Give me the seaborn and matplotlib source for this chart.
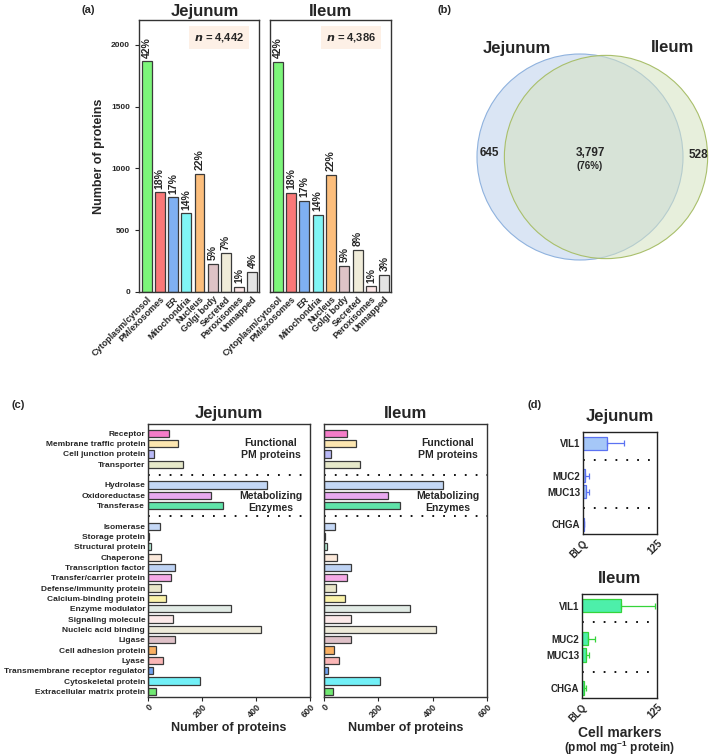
import matplotlib
matplotlib.use("Agg")
import matplotlib.pyplot as plt
import seaborn as sns
import numpy as np
from matplotlib.patches import Circle

# ---------------- data ----------------
# (a) subcellular localisation
loc_names = ['Cytoplasm/cytosol', 'PM/exosomes', 'ER', 'Mitochondria', 'Nucleus',
             'Golgi body', 'Secreted', 'Peroxisomes', 'Unmapped']
loc_jej = [1866, 805, 765, 635, 955, 228, 312, 40, 165]
loc_ile = [1862, 800, 737, 623, 947, 212, 340, 45, 138]
pct_jej = [42, 18, 17, 14, 22, 5, 7, 1, 4]
pct_ile = [42, 18, 17, 14, 22, 5, 8, 1, 3]
n_jej = '4,442'
n_ile = '4,386'
loc_colors = ['#7CF57A', '#FA7878', '#7FB0F2', '#80F5F5', '#FCBE7C',
              '#DEC3C6', '#F0ECD9', '#FBE4E4', '#E4E4E4']

# (b) venn
venn_only_jej = 645
venn_shared = 3797
venn_only_ile = 528
venn_shared_pct = 76

# (c) protein classes (groups separated by dotted lines)
grp_pm = ['Receptor', 'Membrane traffic protein', 'Cell junction protein', 'Transporter']
grp_enz = ['Hydrolase', 'Oxidoreductase', 'Transferase']
grp_other = ['Isomerase', 'Storage protein', 'Structural protein', 'Chaperone',
             'Transcription factor', 'Transfer/carrier protein', 'Defense/immunity protein',
             'Calcium-binding protein', 'Enzyme modulator', 'Signaling molecule',
             'Nucleic acid binding', 'Ligase', 'Cell adhesion protein', 'Lyase',
             'Transmembrane receptor regulator', 'Cytoskeletal protein',
             'Extracellular matrix protein']
cls_jej = [79, 111, 22, 131,
           439, 234, 278,
           43, 2, 10, 48, 101, 86, 47, 67, 309, 93, 418, 99, 31, 57, 17, 191, 28]
cls_ile = [83, 116, 27, 133,
           438, 237, 281,
           42, 4, 12, 47, 100, 85, 46, 77, 315, 99, 411, 101, 35, 57, 16, 206, 33]
cls_colors = ['#F47CC8', '#FCE6B0', '#B9B9F7', '#E6E8C9',
              '#C3D7F5', '#E9A9F0', '#5FE3A9',
              '#C5D8F6', '#F5F5F5', '#B9F0D9', '#FCE9DB', '#BED3F4', '#F6AAE6',
              '#E8E6C9', '#FBF3A9', '#E1EBE5', '#FCE9E9', '#EDEAD9', '#DFC1C8',
              '#FAB062', '#FBB6B6', '#6FA1F0', '#72F0F7', '#70E872']

# (d) cell markers (pmol/mg protein), mean and SD
markers = ['VIL1', 'MUC2', 'MUC13', 'CHGA']
mk_jej = [40, 4, 5, 2]
mk_jej_sd = [29, 6, 5, 0]
mk_ile = [65, 10, 6, 3]
mk_ile_sd = [56, 12, 5, 4]
mk_xticks = ['BLQ', '125']

# ---------------- style ----------------
sns.set_style('ticks')
plt.rcParams['font.family'] = ['Liberation Sans', 'DejaVu Sans']
plt.rcParams['font.weight'] = 'bold'
plt.rcParams['axes.labelweight'] = 'bold'
plt.rcParams['axes.linewidth'] = 1.0
plt.rcParams['mathtext.fontset'] = 'custom'
plt.rcParams['mathtext.rm'] = 'Liberation Sans:bold'
plt.rcParams['mathtext.bf'] = 'Liberation Sans:bold'

W, H = 709, 756
fig = plt.figure(figsize=(W / 100, H / 100), dpi=100)


def px_axes(x0, y0, x1, y1):
    # axes from pixel box (top-left origin)
    return fig.add_axes([x0 / W, 1 - y1 / H, (x1 - x0) / W, (y1 - y0) / H])


EDGE = '#3a3a3a'

# ---------------- (a) ----------------
def loc_panel(ax, vals, pcts, n_txt, title, show_y, title_x):
    sns.barplot(x=loc_names, y=vals, hue=loc_names, palette=loc_colors, legend=False,
                saturation=1, width=0.75, edgecolor=EDGE, linewidth=0.9, ax=ax)
    for i, (v, p) in enumerate(zip(vals, pcts)):
        ax.text(i, v + 30, f'{p}%', rotation=90, ha='center', va='bottom',
                fontsize=7.5, fontweight='bold')
    ax.set_ylim(0, 2200)
    ax.set_xlim(-0.57, 8.5)
    ax.set_yticks([0, 500, 1000, 1500, 2000])
    ax.tick_params(axis='y', labelsize=6, length=3, width=0.8)
    ax.tick_params(axis='x', length=0, pad=2)
    ax.set_xticks(range(len(loc_names)))
    ax.set_xticklabels(loc_names, rotation=45, ha='right', rotation_mode='anchor',
                       fontsize=6.5, fontweight='bold')
    if not show_y:
        ax.set_yticks([])
    for sp in ax.spines.values():
        sp.set_visible(True)
        sp.set_color('#333333')
    ax.set_title(title, fontsize=12, fontweight='bold', pad=3, x=title_x)
    ax.text(0.67, 0.934, r'$\it{n}$' + f' = {n_txt}', transform=ax.transAxes,
            ha='center', va='center', fontsize=8, fontweight='bold',
            bbox=dict(boxstyle='square,pad=0.45', fc='#FDF0E6', ec='none'))
    ax.set_xlabel('')


ax_a1 = px_axes(139, 20, 259, 292)
loc_panel(ax_a1, loc_jej, pct_jej, n_jej, 'Jejunum', True, 0.55)
ax_a1.set_ylabel('Number of proteins', fontsize=9, fontweight='bold', labelpad=4)
ax_a2 = px_axes(270, 20, 391, 292)
loc_panel(ax_a2, loc_ile, pct_ile, n_ile, 'Ileum', False, 0.5)

# ---------------- (b) venn ----------------
ax_b = px_axes(450, 20, 709, 300)
ax_b.set_xlim(450, 709)
ax_b.set_ylim(300, 20)
ax_b.axis('off')
tot_j = venn_only_jej + venn_shared
tot_i = venn_only_ile + venn_shared
r_scale = 103 / np.sqrt(tot_j)
ax_b.add_patch(Circle((580, 157), r_scale * np.sqrt(tot_j), fc='#DAE5F4', ec='#8FB2DE', lw=0.8, zorder=1))
ax_b.add_patch(Circle((606, 157), r_scale * np.sqrt(tot_i), fc='#D5E2C0', ec='none', alpha=0.55, zorder=2))
ax_b.add_patch(Circle((606, 157), r_scale * np.sqrt(tot_i), fc='none', ec='#A9BF6B', lw=0.8, zorder=3))
ax_b.text(517, 48, 'Jejunum', ha='center', va='center', fontsize=12, fontweight='bold')
ax_b.text(673, 48, 'Ileum', ha='center', va='center', fontsize=12, fontweight='bold')
ax_b.text(489, 153, f'{venn_only_jej}', ha='center', va='center', fontsize=8.5, fontweight='bold', zorder=5)
ax_b.text(590, 153, f'{venn_shared:,}', ha='center', va='center', fontsize=8.5, fontweight='bold', zorder=5)
ax_b.text(590, 166, f'({venn_shared_pct}%)', ha='center', va='center', fontsize=7, fontweight='bold', zorder=5)
ax_b.text(698, 155, f'{venn_only_ile}', ha='center', va='center', fontsize=8.5, fontweight='bold', zorder=5)

# ---------------- (c) ----------------
cls_names = grp_pm + grp_enz + grp_other
order_c = grp_pm + [' '] + grp_enz + ['  '] + grp_other
pal_c = dict(zip(cls_names, cls_colors))


def cls_panel(ax, vals, title, show_y):
    sns.barplot(x=vals, y=cls_names, order=order_c, hue=cls_names, palette=pal_c,
                legend=False, orient='h', saturation=1, width=0.7, edgecolor=EDGE,
                linewidth=0.9, ax=ax)
    for yy in (len(grp_pm), len(grp_pm) + len(grp_enz) + 1):
        ax.axhline(yy, color='black', lw=1.3, ls=(0, (1, 5)))
    ax.set_xlim(0, 600)
    ax.set_ylim(25.55, -0.9)
    ax.set_xticks([0, 200, 400, 600])
    ax.set_xticklabels(['0', '200', '400', '600'], rotation=45, ha='right',
                       rotation_mode='anchor', fontsize=6.5, fontweight='bold')
    ax.tick_params(axis='x', length=3, width=0.8, pad=1)
    ax.tick_params(axis='y', length=0, pad=2, labelsize=6)
    if not show_y:
        ax.set_yticklabels([])
    for sp in ax.spines.values():
        sp.set_visible(True)
        sp.set_color('#333333')
    ax.set_title(title, fontsize=12, fontweight='bold', pad=4)
    ax.set_xlabel('Number of proteins', fontsize=9, fontweight='bold', labelpad=2)
    ax.set_ylabel('')
    ax.text(0.76, 1.5, 'Functional\nPM proteins', ha='center', va='center',
            transform=ax.get_yaxis_transform(), fontsize=7.5, fontweight='bold',
            linespacing=1.25)
    ax.text(0.76, 6.65, 'Metabolizing\nEnzymes', ha='center', va='center',
            transform=ax.get_yaxis_transform(), fontsize=7.5, fontweight='bold',
            linespacing=1.25)


ax_c1 = px_axes(148, 424, 310, 697)
cls_panel(ax_c1, cls_jej, 'Jejunum', True)
ax_c2 = px_axes(324, 424, 487, 697)
cls_panel(ax_c2, cls_ile, 'Ileum', False)

# ---------------- (d) ----------------
order_d = ['VIL1', ' ', 'MUC2', 'MUC13', '  ', 'CHGA']


def marker_panel(ax, vals, sds, face, edge, title):
    sns.barplot(x=vals, y=markers, order=order_d, orient='h', color=face,
                saturation=1, width=0.8, edgecolor=edge, linewidth=0.9, ax=ax)
    pos = [order_d.index(m) for m in markers]
    ax.errorbar(vals, pos, xerr=[[0] * len(sds), sds], fmt='none', ecolor=edge,
                elinewidth=0.9, capsize=2.5, capthick=0.9)
    for yy in (1, 4):
        ax.axhline(yy, color='black', lw=1.3, ls=(0, (1, 5)))
    ax.set_xlim(0, 125)
    ax.set_ylim(5.6, -0.7)
    ax.set_xticks([0, 125])
    ax.set_xticklabels(mk_xticks, rotation=45, ha='right', rotation_mode='anchor',
                       fontsize=7, fontweight='bold')
    ax.tick_params(axis='x', length=0, pad=3)
    ax.tick_params(axis='y', length=0, pad=2, labelsize=7)
    for sp in ax.spines.values():
        sp.set_visible(True)
        sp.set_color('#222222')
    ax.set_title(title, fontsize=12, fontweight='bold', pad=8)
    ax.set_xlabel('')
    ax.set_ylabel('')


ax_d1 = px_axes(583, 432, 657, 534)
marker_panel(ax_d1, mk_jej, mk_jej_sd, '#A5C7F7', '#5B72F2', 'Jejunum')
ax_d2 = px_axes(582, 594, 657, 698)
marker_panel(ax_d2, mk_ile, mk_ile_sd, '#4DEFAA', '#35D43A', 'Ileum')
fig.text(620 / W, 1 - 733 / H, 'Cell markers', ha='center', va='center',
         fontsize=10, fontweight='bold')
fig.text(620 / W, 1 - 748 / H, r'(pmol mg$^{\mathbf{-1}}$ protein)', ha='center',
         va='center', fontsize=8.5, fontweight='bold')

# ---------------- panel letters ----------------
for lbl, x, y in [('(a)', 88, 10), ('(b)', 445, 10), ('(c)', 18, 405), ('(d)', 535, 405)]:
    fig.text(x / W, 1 - y / H, lbl, ha='center', va='center', fontsize=8, fontweight='bold')

fig.savefig('out.png', dpi=100)
